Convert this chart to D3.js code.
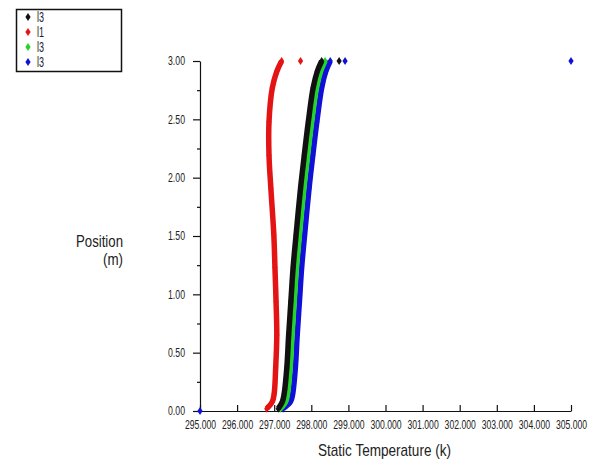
<!DOCTYPE html>
<html>
  <head>
    <meta charset="utf-8">
    <title>Static temperature profile</title>
    <script src="https://d3js.org/d3.v7.min.js"></script>
    <style>
      body { margin: 0; background: #fff; }
      svg { display: block; font-family: "Liberation Sans", Arial, sans-serif; }
      .axis path, .axis line { stroke: #111; stroke-width: 1.2; }
      .axis text { fill: #222; font-size: 12px; }
    </style>
  </head>
  <body>
    <svg id="chart" width="589" height="474"></svg>
    <script>
      // data
      var positions = [0.02, 0.08, 0.15, 0.37, 0.65, 0.94, 1.23, 1.51, 1.91, 2.19, 2.48, 2.77, 2.91, 3.0];
      var tempL1 = [296.80, 296.95, 297.00, 297.04, 297.07, 297.05, 297.02, 296.99, 296.91, 296.86, 296.86, 296.95, 297.07, 297.20];
      var tempL3a = [297.11, 297.22, 297.27, 297.34, 297.39, 297.45, 297.51, 297.59, 297.71, 297.81, 297.92, 298.05, 298.16, 298.28];
      var tempL3b = [297.17, 297.31, 297.36, 297.43, 297.48, 297.54, 297.60, 297.68, 297.80, 297.90, 298.01, 298.14, 298.25, 298.37];
      var tempL3c = [297.24, 297.44, 297.50, 297.57, 297.62, 297.68, 297.74, 297.82, 297.94, 298.04, 298.15, 298.28, 298.39, 298.51];
      // stray nodes away from the profiles
      var strayTemps = [297.71, 298.75, 298.91, 305.0, 295.0];
      var strayPositions = [3.0, 3.0, 3.0, 3.0, 0.0];
      var strayColors = ["#e41414", "#111", "#1010d8", "#1010d8", "#1010d8"];
      var legendNames = ["l3", "l1", "l3", "l3"];
      var legendColors = ["#111", "#e41414", "#22d42a", "#1010d8"];
      var xTicks = d3.range(295, 306, 1);
      var yTicks = [0, 0.5, 1, 1.5, 2, 2.5, 3];
      var yMinor = [0.25, 0.75, 1.25, 1.75, 2.25, 2.75];

      var svg = d3.select("#chart");
      var x = d3.scaleLinear().domain([295, 305]).range([200, 571]);
      var y = d3.scaleLinear().domain([0, 3]).range([411, 61]);
      var diamond = "M0,-4L2.6,0L0,4L-2.6,0Z";

      // axes
      var xAxis = svg.append("g").attr("class", "axis")
        .attr("transform", "translate(0,411)")
        .call(d3.axisBottom(x).tickValues(xTicks).tickSizeInner(-6).tickSizeOuter(0).tickPadding(9)
          .tickFormat(d3.format(".3f")));
      // narrow lettering, squeezed sideways about each tick
      xAxis.selectAll("text").attr("transform", "scale(0.72,1)");

      svg.append("g").attr("class", "axis")
        .attr("transform", "translate(200,0)")
        .call(d3.axisLeft(y).tickValues(yMinor).tickSize(3).tickFormat(""))
        .select(".domain").remove();
      var yAxis = svg.append("g").attr("class", "axis")
        .attr("transform", "translate(200,0)")
        .call(d3.axisLeft(y).tickValues(yTicks).tickSizeInner(7).tickSizeOuter(0).tickPadding(8)
          .tickFormat(d3.format(".2f")));
      yAxis.selectAll("text").attr("textLength", 17).attr("lengthAdjust", "spacingAndGlyphs");

      // axis titles
      svg.append("text").attr("x", 123).attr("y", 247).attr("text-anchor", "end")
        .attr("font-size", 17).attr("fill", "#222")
        .attr("textLength", 47).attr("lengthAdjust", "spacingAndGlyphs").text("Position");
      svg.append("text").attr("x", 123).attr("y", 265).attr("text-anchor", "end")
        .attr("font-size", 17).attr("fill", "#222")
        .attr("textLength", 20).attr("lengthAdjust", "spacingAndGlyphs").text("(m)");
      svg.append("text").attr("x", 318).attr("y", 456)
        .attr("font-size", 17).attr("fill", "#222")
        .attr("textLength", 133).attr("lengthAdjust", "spacingAndGlyphs").text("Static Temperature (k)");

      // profiles, blue first so black sits on top
      var series = [
        { temps: tempL3c, color: "#1010d8" },
        { temps: tempL3b, color: "#22d42a" },
        { temps: tempL3a, color: "#111" },
        { temps: tempL1, color: "#e41414" }
      ];
      var line = d3.line()
        .x(function(d) { return x(d[0]); })
        .y(function(d) { return y(d[1]); })
        .curve(d3.curveCatmullRom);
      series.forEach(function(s) {
        var pts = d3.zip(s.temps, positions);
        svg.append("path").datum(pts)
          .attr("d", line)
          .attr("fill", "none")
          .attr("stroke", s.color)
          .attr("stroke-width", 5.5);
        svg.append("g").selectAll("path")
          .data(pts)
          .enter().append("path")
            .attr("d", diamond)
            .attr("fill", s.color)
            .attr("transform", function(d) { return "translate(" + x(d[0]) + "," + y(d[1]) + ")"; });
      });

      svg.append("g").selectAll("path")
        .data(d3.zip(strayTemps, strayPositions, strayColors))
        .enter().append("path")
          .attr("d", diamond)
          .attr("fill", function(d) { return d[2]; })
          .attr("transform", function(d) { return "translate(" + x(d[0]) + "," + y(d[1]) + ")"; });

      // legend
      var legend = svg.append("g");
      legend.append("rect").attr("x", 16.5).attr("y", 9.5).attr("width", 105).attr("height", 62)
        .attr("fill", "#fff").attr("stroke", "#111").attr("stroke-width", 1.5);
      var rows = legend.selectAll("g.row")
        .data(d3.zip(legendNames, legendColors))
        .enter().append("g").attr("class", "row")
          .attr("transform", function(d, i) { return "translate(28," + (17 + i * 15) + ")"; });
      rows.append("path").attr("d", diamond).attr("fill", function(d) { return d[1]; });
      rows.append("text").attr("x", 9).attr("y", 5).attr("font-size", 14).attr("fill", "#222")
        .attr("textLength", 7).attr("lengthAdjust", "spacingAndGlyphs")
        .text(function(d) { return d[0]; });
    </script>
  </body>
</html>
